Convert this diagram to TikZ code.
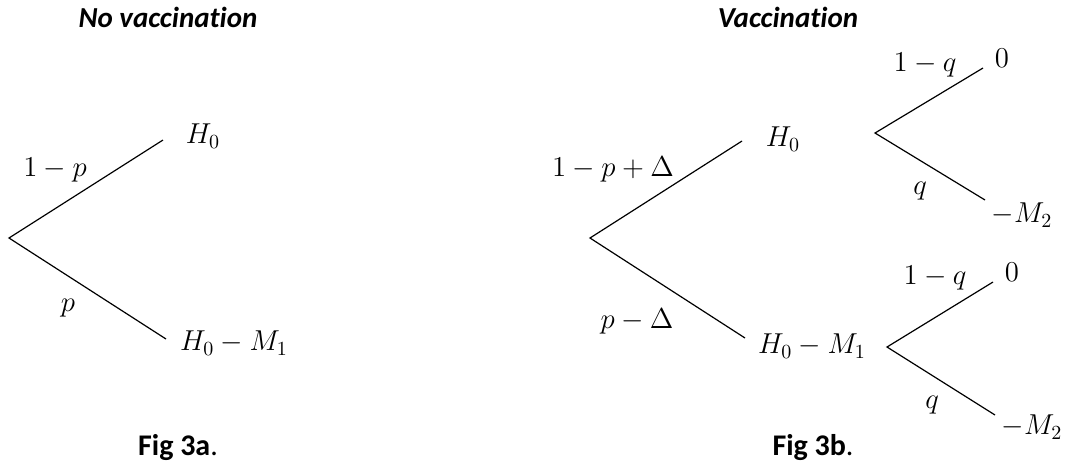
\documentclass[tikz,border=0pt]{standalone}
\usepackage{fontspec}
\setmainfont[Ligatures=NoCommon]{Carlito}
\begin{document}
\begin{tikzpicture}[x=0.5pt, y=-0.5pt,
          every node/.style={inner sep=0pt},
          ttl/.style={font=\fontsize{14.5}{16}\selectfont\bfseries\itshape},
          figcap/.style={font=\fontsize{15}{17}\selectfont},
          lbl/.style={font=\fontsize{14.2}{16}\selectfont},
          br/.style={line width=0.6pt}]
        \useasboundingbox (0,0) rectangle (1068,468);
        % no vaccination
        \node[ttl] (t1) at (168,17) {No vaccination};
        \coordinate (a0) at (9,238);
        \coordinate (a1) at (163,140);
        \coordinate (a2) at (166,339);
        \draw[br] (a1) -- (a0) -- (a2);
        \node[lbl] (l1) at (55,170) {$1-p$};
        \node[lbl] (l2) at (68,308) {$p$};
        \node[lbl] (o1) at (203,136) {$H_0$};
        \node[lbl] (o2) at (234,343) {$H_0-M_1$};
        \node[figcap] (f1) at (178,447) {\textbf{Fig 3a}.};
        % vaccination
        \node[ttl] (t2) at (788,17) {Vaccination};
        \coordinate (b0) at (590,238);
        \coordinate (b1) at (742,141);
        \coordinate (b2) at (745,338);
        \draw[br] (b1) -- (b0) -- (b2);
        \node[lbl] (m1) at (613,169) {$1-p+\Delta$};
        \node[lbl] (m2) at (637,321) {$p-\Delta$};
        \node[lbl] (v1) at (783,139) {$H_0$};
        \node[lbl] (v2) at (812,346) {$H_0-M_1$};
        % second stage, upper
        \coordinate (c0) at (875,133);
        \coordinate (c1) at (983,68);
        \coordinate (c2) at (985,200);
        \draw[br] (c1) -- (c0) -- (c2);
        \node[lbl] (n1) at (925,65) {$1-q$};
        \node[lbl] (n2) at (920,191) {$q$};
        \node[lbl] (w1) at (1002,58) {$0$};
        \node[lbl] (w2) at (1022,215) {$-M_2$};
        % second stage, lower
        \coordinate (d0) at (887,347);
        \coordinate (d1) at (993,282);
        \coordinate (d2) at (995,415);
        \draw[br] (d1) -- (d0) -- (d2);
        \node[lbl] (k1) at (935,278) {$1-q$};
        \node[lbl] (k2) at (932,405) {$q$};
        \node[lbl] (u1) at (1012,272) {$0$};
        \node[lbl] (u2) at (1032,427) {$-M_2$};
        \node[figcap] (f2) at (813,447) {\textbf{Fig 3b}.};
      \end{tikzpicture}
\end{document}
